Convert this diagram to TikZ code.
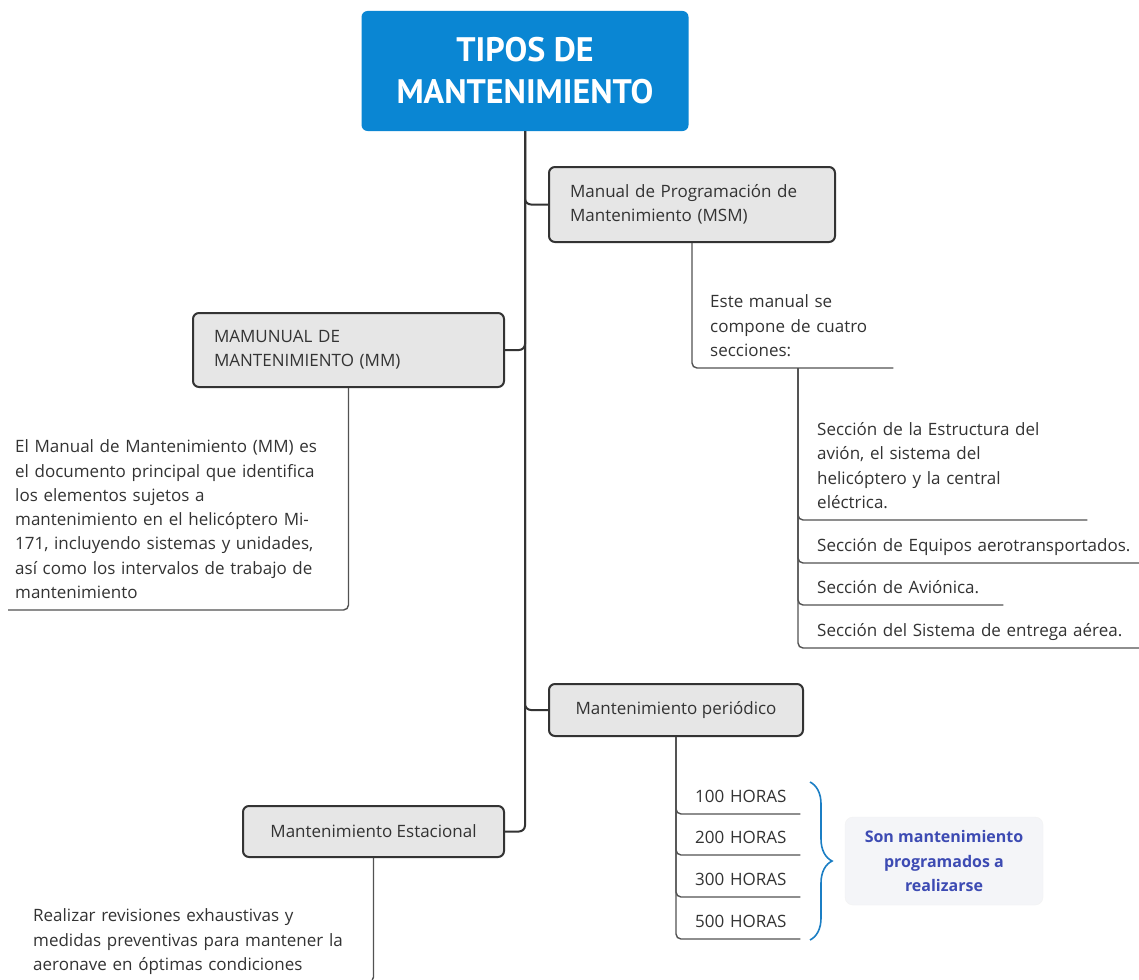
\documentclass[tikz,border=0pt]{standalone}
\usepackage{fontspec}
\setmainfont{Open Sans}
\newfontfamily\titlefont{PT Sans}
\usetikzlibrary{decorations.pathreplacing}
\definecolor{titleblue}{HTML}{0A86D3}
\definecolor{boxgray}{HTML}{E6E6E6}
\definecolor{linegray}{HTML}{333333}
\definecolor{notebg}{HTML}{F4F5F8}
\definecolor{notetext}{HTML}{3D4BB3}
\definecolor{bracecol}{HTML}{1B7EC4}
\newcommand{\bodyfont}{\fontsize{17}{24.3}\selectfont}

\begin{document}
\begin{tikzpicture}[x=1pt,y=-1pt,
        topic/.style={draw=linegray,line width=2pt,fill=boxgray,rounded corners=6pt,
            font=\bodyfont,text=black!80,inner sep=0pt},
        leaf/.style={anchor=south west,align=left,inner xsep=0pt,inner ysep=4pt,
            execute at end node=\strut,font=\bodyfont,text=black!80},
        trunk/.style={draw=linegray,line width=2pt,rounded corners=6pt},
        twig/.style={draw=linegray!85,line width=1.4pt,rounded corners=5pt}]

\clip (0,0) rectangle (1139,979);
\fill[white] (0,0) rectangle (1139,979);

% central topic
\node[fill=titleblue,rounded corners=6pt,minimum width=327pt,minimum height=120pt,
    text=white,align=center,font=\fontsize{34}{42}\selectfont\titlefont\bfseries] (title) at (525,71)
    {TIPOS DE\\MANTENIMIENTO};

% main branches
\node[topic,text width=244pt,inner xsep=21pt,minimum height=75pt,align=left] (msm) at (692,204.5)
    {Manual de Programación de\\Mantenimiento (MSM)};
\node[topic,text width=269pt,inner xsep=21pt,minimum height=74pt,align=left] (mm) at (348.5,350)
    {MAMUNUAL DE\\MANTENIMIENTO (MM)};
\node[topic,minimum width=254pt,minimum height=52pt] (per) at (676,710) {Mantenimiento periódico};
\node[topic,minimum width=261pt,minimum height=51pt] (est) at (373.5,831.5) {Mantenimiento Estacional};

\draw[trunk] (title.south) |- (msm.west);
\draw[trunk] (title.south) |- (mm.east);
\draw[trunk] (title.south) |- (per.west);
\draw[trunk] (title.south) |- (est.east);

% MSM
\node[leaf,text width=183pt] (manual) at (710,368) {Este manual se\\compone de cuatro\\secciones:};
\draw[twig] (msm.south) |- (manual.south east);
\coordinate (secroot) at (798,368);
\node[leaf,text width=270pt] (sec1) at (817,520)
    {Sección de la Estructura del\\avión, el sistema del\\helicóptero y la central\\eléctrica.};
\node[leaf,text width=322pt] (sec2) at (817,563) {Sección de Equipos aerotransportados.};
\node[leaf,text width=186pt] (sec3) at (817,605) {Sección de Aviónica.};
\node[leaf,text width=322pt] (sec4) at (817,648) {Sección del Sistema de entrega aérea.};
\foreach \s in {sec1,sec2,sec3,sec4}
    \draw[twig] (secroot) |- (\s.south east);

% MM
\node[leaf,text width=326pt,inner xsep=7pt] (mmtext) at (8,610)
    {El Manual de Mantenimiento (MM) es\\el documento principal que identifica\\los elementos sujetos a\\
     mantenimiento en el helicóptero Mi-\\171, incluyendo sistemas y unidades,\\
     así como los intervalos de trabajo de\\mantenimiento};
\draw[twig] (mm.south) |- (mmtext.south west);

% periodico
\foreach \n/\y in {100/814,200/855,300/897,500/939}
    \node[leaf,text width=105pt] (h\n) at (695,\y) {\n\ HORAS};
\foreach \n in {100,200,300,500}
    \draw[twig] (per.south) |- (h\n.south east);

\coordinate (bracetop) at (810,782);
\coordinate (bracebot) at (810,940);
\draw[bracecol,line width=1.6pt,decorate,decoration={brace,amplitude=22pt}] (bracetop) -- (bracebot);
\node[fill=notebg,draw=black!5,rounded corners=8pt,minimum width=198pt,minimum height=88pt,
    align=center,text=notetext,font=\fontsize{16}{24.3}\selectfont\bfseries] (note) at (944,861)
    {Son mantenimiento\\programados a\\realizarse};

% estacional
\node[leaf,text width=330pt] (esttext) at (33,982)
    {Realizar revisiones exhaustivas y\\medidas preventivas para mantener la\\aeronave en óptimas condiciones};
\draw[twig] (est.south) |- (esttext.south west);
\end{tikzpicture}
\end{document}
